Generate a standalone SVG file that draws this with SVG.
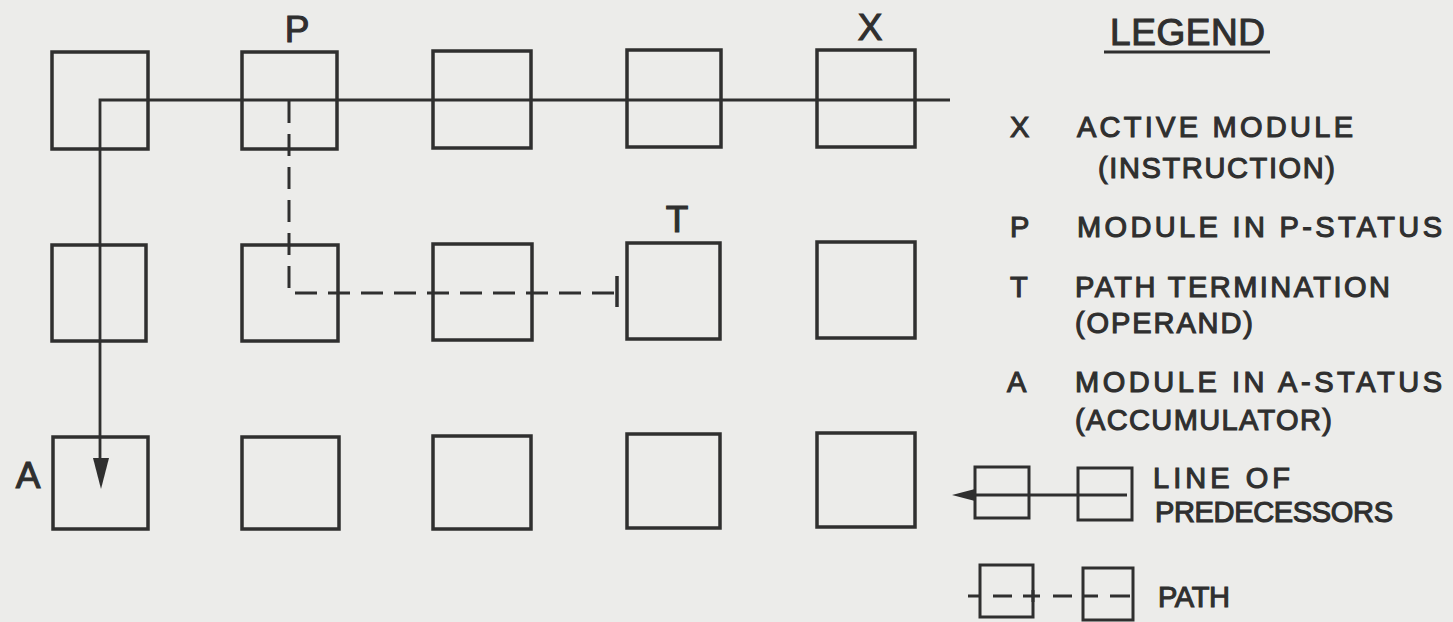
<svg xmlns="http://www.w3.org/2000/svg" width="1453" height="622" viewBox="0 0 1453 622">
<style>
.bg{fill:#ececea}
.box{fill:none;stroke:#2f2f2f;stroke-width:3.5}
.ln{fill:none;stroke:#2f2f2f;stroke-width:2.8}
.dash{fill:none;stroke:#2f2f2f;stroke-width:3;stroke-dasharray:22 11}
.ah{fill:#2f2f2f}
text{font-family:"Liberation Sans",Arial,sans-serif;fill:#2f2f2f;stroke:#2f2f2f;stroke-width:1.1}
.big{font-size:37px}
.leg{font-size:29px}
</style>
<rect class="bg" x="0" y="0" width="1453" height="622"/>

<g id="nodes">
  <g id="n11"><rect class="box" x="52" y="52" width="96" height="97"/></g>
  <g id="n12"><rect class="box" x="242" y="52" width="95" height="97"/></g>
  <g id="n13"><rect class="box" x="433" y="51" width="98" height="97"/></g>
  <g id="n14"><rect class="box" x="627" y="50" width="94" height="97"/></g>
  <g id="n15"><rect class="box" x="817" y="50" width="98" height="97"/></g>

  <g id="n21"><rect class="box" x="52" y="245" width="94" height="96"/></g>
  <g id="n22"><rect class="box" x="242" y="245" width="96" height="96"/></g>
  <g id="n23"><rect class="box" x="433" y="244" width="99" height="96"/></g>
  <g id="n24"><rect class="box" x="627" y="243" width="93" height="96"/></g>
  <g id="n25"><rect class="box" x="817" y="242" width="98" height="96"/></g>

  <g id="n31"><rect class="box" x="53" y="437" width="95" height="92"/></g>
  <g id="n32"><rect class="box" x="242" y="437" width="97" height="92"/></g>
  <g id="n33"><rect class="box" x="433" y="436" width="98" height="93"/></g>
  <g id="n34"><rect class="box" x="627" y="434" width="93" height="94"/></g>
  <g id="n35"><rect class="box" x="817" y="433" width="98" height="94"/></g>
</g>

<g id="connectors">
  <path class="ln" d="M950,100 H100 V462"/>
  <polygon class="ah" points="93,458 109,458 101,489"/>
  <path class="dash" d="M289,101 V293 H617"/>
  <line class="ln" x1="617" y1="276" x2="617" y2="307" style="stroke-width:3.5"/>
</g>

<g id="labels">
  <text class="big" x="297" y="42" text-anchor="middle">P</text>
  <text class="big" x="870" y="40" text-anchor="middle">X</text>
  <text class="big" x="677" y="232" text-anchor="middle">T</text>
  <text class="big" x="28" y="488" text-anchor="middle">A</text>
</g>

<g id="legend">
  <text class="big" x="1110" y="45" textLength="155" lengthAdjust="spacing">LEGEND</text>
  <line class="ln" x1="1104" y1="52" x2="1270" y2="52" style="stroke-width:3"/>

  <text class="leg" x="1010" y="137">X</text>
  <text class="leg" x="1077" y="137" textLength="276" lengthAdjust="spacing">ACTIVE MODULE</text>
  <text class="leg" x="1098" y="178" textLength="237" lengthAdjust="spacing">(INSTRUCTION)</text>

  <text class="leg" x="1010" y="237">P</text>
  <text class="leg" x="1077" y="237" textLength="365" lengthAdjust="spacing">MODULE IN P-STATUS</text>

  <text class="leg" x="1010" y="297">T</text>
  <text class="leg" x="1075" y="297" textLength="315" lengthAdjust="spacing">PATH TERMINATION</text>
  <text class="leg" x="1075" y="333" textLength="178" lengthAdjust="spacing">(OPERAND)</text>

  <text class="leg" x="1007" y="392">A</text>
  <text class="leg" x="1075" y="392" textLength="367" lengthAdjust="spacing">MODULE IN A-STATUS</text>
  <text class="leg" x="1075" y="430" textLength="257" lengthAdjust="spacing">(ACCUMULATOR)</text>

  <g id="legend-line">
    <rect class="box" x="975" y="467" width="54" height="51" style="stroke-width:3"/>
    <rect class="box" x="1078" y="468" width="54" height="52" style="stroke-width:3"/>
    <line class="ln" x1="966" y1="495" x2="1127" y2="495"/>
    <polygon class="ah" points="952,495 975,489 975,501"/>
  </g>
  <text class="leg" x="1153" y="488" textLength="137" lengthAdjust="spacing">LINE OF</text>
  <text class="leg" x="1155" y="522" textLength="238" lengthAdjust="spacing">PREDECESSORS</text>

  <g id="legend-path">
    <rect class="box" x="980" y="565" width="53" height="52" style="stroke-width:3"/>
    <rect class="box" x="1083" y="568" width="50" height="52" style="stroke-width:3"/>
    <path class="ln" d="M968,596 H980 M993,596 H1012 M1023,596 H1040 M1053,596 H1072 M1083,596 H1098 M1110,596 H1130"/>
    <line class="ln" x1="1033" y1="590" x2="1033" y2="602" style="stroke-width:3"/>
  </g>
  <text class="leg" x="1158" y="607" textLength="72" lengthAdjust="spacing">PATH</text>
</g>
</svg>
